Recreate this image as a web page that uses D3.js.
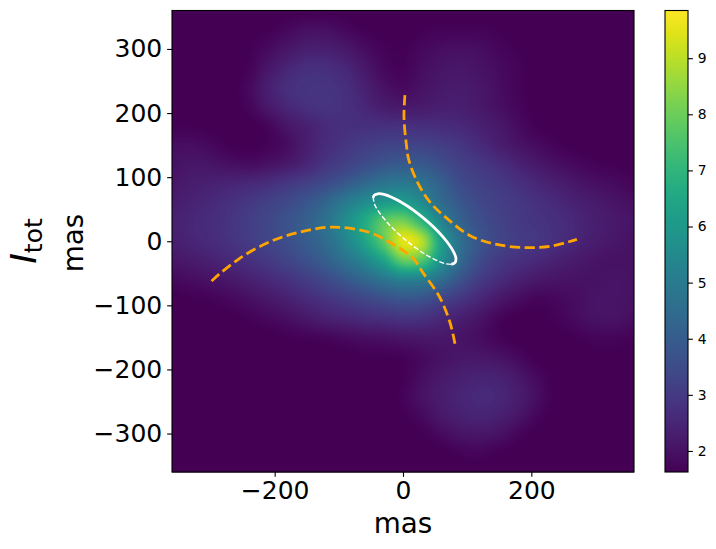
<!DOCTYPE html>
<html><head><meta charset="utf-8">
<style>html,body{margin:0;padding:0;background:#fff}svg{display:block}text{font-family:"DejaVu Sans";fill:#000}</style>
<script src="https://cdnjs.cloudflare.com/ajax/libs/d3/7.8.5/d3.min.js"></script>
</head><body><svg id="c" width="716" height="549"></svg>
<script>
const gridX = d3.range(25).map(i => -360 + i * 30);
const gridY = d3.range(25).map(i => 360 - i * 30);
const intensity = [
[1.6,1.6,1.6,1.6,1.6,1.6,1.6,1.6,1.6,1.6,1.6,1.6,1.6,1.6,1.6,1.6,1.6,1.6,1.6,1.6,1.6,1.6,1.6,1.6,1.6],
[1.6,1.6,1.6,1.6,1.6,1.65,1.8,1.95,1.95,1.8,1.65,1.6,1.6,1.65,1.7,1.7,1.7,1.65,1.6,1.6,1.6,1.6,1.6,1.6,1.6],
[1.6,1.6,1.6,1.6,1.65,1.85,2.1,2.3,2.3,2.15,1.9,1.7,1.65,1.8,1.9,1.95,1.9,1.75,1.65,1.6,1.6,1.6,1.6,1.6,1.6],
[1.6,1.6,1.6,1.6,1.7,2.1,2.45,2.7,2.7,2.5,2.15,1.8,1.7,1.9,2.05,2.1,2.0,1.85,1.7,1.6,1.6,1.6,1.6,1.6,1.6],
[1.6,1.6,1.6,1.6,1.8,2.3,2.7,2.85,2.85,2.7,2.35,2.0,1.85,2.0,2.15,2.2,2.1,1.9,1.7,1.6,1.6,1.6,1.6,1.6,1.6],
[1.6,1.6,1.6,1.6,1.75,2.15,2.5,2.75,2.85,2.75,2.5,2.25,2.15,2.2,2.3,2.3,2.15,1.95,1.75,1.6,1.6,1.6,1.6,1.6,1.6],
[1.65,1.65,1.6,1.6,1.6,1.75,2.1,2.35,2.6,2.75,2.75,2.75,2.75,2.7,2.65,2.55,2.35,2.15,1.85,1.65,1.6,1.6,1.6,1.6,1.6],
[1.9,1.9,1.8,1.65,1.6,1.7,1.9,2.3,2.65,2.9,3.1,3.25,3.3,3.25,3.1,2.9,2.6,2.3,2.05,1.85,1.7,1.6,1.6,1.6,1.6],
[2.0,2.1,2.05,1.95,1.9,2.0,2.2,2.5,2.9,3.2,3.5,3.8,3.95,3.9,3.55,3.2,2.95,2.7,2.4,2.15,1.95,1.8,1.7,1.65,1.6],
[2.1,2.25,2.35,2.45,2.55,2.7,2.95,3.2,3.5,3.9,4.4,4.8,4.95,4.7,4.1,3.5,3.2,3.0,2.75,2.5,2.3,2.1,1.95,1.85,1.75],
[2.25,2.4,2.55,2.75,2.95,3.2,3.45,3.8,4.3,5.0,5.6,6.1,6.2,5.5,4.5,3.85,3.4,3.15,2.95,2.75,2.55,2.35,2.2,2.05,1.95],
[2.35,2.5,2.65,2.85,3.1,3.35,3.7,4.1,4.7,5.6,6.6,7.8,8.2,7.0,5.3,4.2,3.6,3.25,3.0,2.85,2.7,2.5,2.3,2.15,2.05],
[2.3,2.45,2.6,2.8,3.05,3.3,3.6,4.0,4.5,5.3,6.4,7.8,9.5,8.9,6.2,4.6,3.75,3.3,3.05,2.9,2.7,2.45,2.25,2.1,2.0],
[2.1,2.2,2.35,2.55,2.75,3.0,3.3,3.65,4.1,4.7,5.4,6.4,7.9,7.6,5.8,4.4,3.5,3.0,2.75,2.55,2.35,2.2,2.05,2.0,2.0],
[1.8,1.9,2.0,2.15,2.35,2.55,2.8,3.1,3.45,3.85,4.3,4.8,5.2,5.1,4.5,3.7,3.05,2.65,2.35,2.15,2.05,2.0,2.0,2.05,2.0],
[1.6,1.65,1.7,1.8,1.95,2.15,2.35,2.6,2.85,3.1,3.35,3.6,3.8,3.7,3.3,2.9,2.5,2.15,1.9,1.75,1.8,1.9,2.05,2.05,2.0],
[1.6,1.6,1.6,1.6,1.7,1.8,1.95,2.15,2.35,2.5,2.65,2.75,2.85,2.8,2.55,2.3,2.05,1.75,1.6,1.6,1.7,1.85,2.0,2.0,1.9],
[1.6,1.6,1.6,1.6,1.6,1.6,1.65,1.7,1.75,1.85,1.95,2.0,2.1,2.15,2.15,2.05,1.9,1.7,1.6,1.6,1.6,1.65,1.75,1.75,1.7],
[1.6,1.6,1.6,1.6,1.6,1.6,1.6,1.6,1.6,1.6,1.65,1.65,1.7,1.85,2.0,2.1,2.1,2.0,1.8,1.6,1.6,1.6,1.6,1.6,1.6],
[1.6,1.6,1.6,1.6,1.6,1.6,1.6,1.6,1.6,1.6,1.6,1.6,1.65,1.9,2.15,2.3,2.4,2.35,2.1,1.8,1.6,1.6,1.6,1.6,1.6],
[1.6,1.6,1.6,1.6,1.6,1.6,1.6,1.6,1.6,1.6,1.6,1.6,1.7,2.0,2.25,2.45,2.55,2.5,2.25,1.9,1.6,1.6,1.6,1.6,1.6],
[1.6,1.6,1.6,1.6,1.6,1.6,1.6,1.6,1.6,1.6,1.6,1.6,1.65,1.85,2.15,2.35,2.45,2.35,2.1,1.75,1.6,1.6,1.6,1.6,1.6],
[1.6,1.6,1.6,1.6,1.6,1.6,1.6,1.65,1.6,1.6,1.6,1.6,1.6,1.65,1.85,2.05,2.1,2.0,1.75,1.6,1.6,1.6,1.6,1.6,1.6],
[1.6,1.6,1.6,1.6,1.6,1.6,1.6,1.6,1.6,1.6,1.6,1.6,1.6,1.6,1.6,1.7,1.75,1.65,1.6,1.6,1.6,1.6,1.6,1.6,1.6],
[1.6,1.6,1.6,1.6,1.6,1.6,1.6,1.6,1.6,1.6,1.6,1.6,1.6,1.6,1.6,1.6,1.6,1.6,1.6,1.6,1.6,1.6,1.6,1.6,1.6]
];
const curveA = [[81,-160],[73,-126],[57,-87],[31,-49],[16,-27],[-20,-2],[-53,14],[-110,22],[-162,14],[-208,-1],[-255,-27],[-294,-58],[-302,-66]];
const curveB = [[3,228],[1.5,194],[5,153],[9,127],[23,91],[42,61],[68,36],[104,9],[146,-5],[193,-10],[234,-7],[271,3]];
const ellipseSolid = [[-46.4,67.7],[-45,71.5],[-39.3,74.1],[-29.6,73],[-1.4,60],[32,36],[61.6,7.5],[79.6,-18],[82.5,-27.3],[81,-33.5],[75.3,-36.1]];
const ellipseDashed = [[75.3,-36.1],[65.6,-35],[37.4,-22],[4,2],[-25.6,30.5],[-43.6,56],[-46.4,67.7]];
const axisTicks = [-300,-200,-100,0,100,200,300];
const xTicks = [-200,0,200];
const barTicks = [2,3,4,5,6,7,8,9];
const valueMin = 1.625, valueMax = 9.85, extent = 360;

const svg = d3.select("#c");
const L = 172, R = 634, T = 10.5, B = 472, BL = 665, BR = 688;
const x = d3.scaleLinear().domain([-extent, extent]).range([L, R]);
const y = d3.scaleLinear().domain([-extent, extent]).range([B, T]);
const col = d3.scaleSequential(d3.interpolateViridis).domain([valueMin, valueMax]);
const cb = d3.scaleLinear().domain([valueMin, valueMax]).range([B, T]);

function cr(a,b,c,d,t){return b+0.5*t*(c-a+t*(2*a-5*b+4*c-d+t*(3*(b-c)+d-a)));}
function sample(mx,my){
  const fx=(mx-gridX[0])/30, fy=(gridY[0]-my)/30;
  const ix=Math.min(23,Math.floor(fx)), iy=Math.min(23,Math.floor(fy));
  const tx=fx-ix, ty=fy-iy, n=24;
  const g=(r,c)=>intensity[Math.max(0,Math.min(n,r))][Math.max(0,Math.min(n,c))];
  const rows=[-1,0,1,2].map(dr=>cr(g(iy+dr,ix-1),g(iy+dr,ix),g(iy+dr,ix+1),g(iy+dr,ix+2),tx));
  return cr(rows[0],rows[1],rows[2],rows[3],ty);
}
const w=Math.round(R-L), h=Math.round(B-T);
const cv=document.createElement("canvas");cv.width=w;cv.height=h;
const ctx=cv.getContext("2d"), img=ctx.createImageData(w,h);
for(let j=0;j<h;j++)for(let i=0;i<w;i++){
  const v=Math.max(valueMin,Math.min(valueMax,sample(x.invert(L+i+0.5),y.invert(T+j+0.5))));
  const c=d3.rgb(col(v)),k=(j*w+i)*4;
  img.data[k]=c.r;img.data[k+1]=c.g;img.data[k+2]=c.b;img.data[k+3]=255;
}
ctx.putImageData(img,0,0);
svg.append("image").attr("x",L).attr("y",T).attr("width",w).attr("height",h).attr("href",cv.toDataURL());

const defs=svg.append("defs");
const gr=defs.append("linearGradient").attr("id","cbg").attr("x1",0).attr("x2",0).attr("y1",1).attr("y2",0);
d3.range(0,1.0001,0.05).forEach(t=>gr.append("stop").attr("offset",t).attr("stop-color",d3.interpolateViridis(t)));
svg.append("rect").attr("x",BL).attr("y",T).attr("width",BR-BL).attr("height",B-T).attr("fill","url(#cbg)");

const line=d3.line().x(d=>x(d[0])).y(d=>y(d[1])).curve(d3.curveCatmullRom.alpha(0.5));
const draw=(pts,color,lw,dash)=>svg.append("path").attr("d",line(pts)).attr("fill","none")
  .attr("stroke",color).attr("stroke-width",lw).attr("stroke-dasharray",dash);
draw(curveA,"#ffa500",2.78,"10.3 4.45");
draw(curveB,"#ffa500",2.78,"10.3 4.45");
draw(ellipseSolid,"#fff",2.78,null);
draw(ellipseDashed,"#fff",1.39,"5.15 2.2");

const fmt=d=>String(d).replace("-","\u2212");
function styleAxis(g,size){
  g.select(".domain").remove();
  g.selectAll(".tick line").attr("stroke","#000").attr("stroke-width",1.11);
  g.selectAll(".tick text").attr("font-size",size).attr("font-family","DejaVu Sans").attr("fill","#000");
}
svg.append("g").attr("transform",`translate(0,${B})`)
  .call(d3.axisBottom(x).tickValues(xTicks).tickFormat(fmt).tickSize(4.86).tickPadding(4.86))
  .call(styleAxis,25);
svg.append("g").attr("transform",`translate(${L},0)`)
  .call(d3.axisLeft(y).tickValues(axisTicks).tickFormat(fmt).tickSize(4.86).tickPadding(4.86))
  .call(styleAxis,25);
svg.append("g").attr("transform",`translate(${BR},0)`)
  .call(d3.axisRight(cb).tickValues(barTicks).tickFormat(fmt).tickSize(4.86).tickPadding(4.86))
  .call(styleAxis,13.9);
svg.append("rect").attr("x",L).attr("y",T).attr("width",R-L).attr("height",B-T).attr("fill","none").attr("stroke","#000").attr("stroke-width",1.11);
svg.append("rect").attr("x",BL).attr("y",T).attr("width",BR-BL).attr("height",B-T).attr("fill","none").attr("stroke","#000").attr("stroke-width",1.11);

svg.append("text").attr("x",(L+R)/2).attr("y",533).attr("text-anchor","middle").attr("font-size",27.8).text("mas");
svg.append("text").attr("transform","translate(83,243) rotate(-90)").attr("text-anchor","middle").attr("font-size",27.8).text("mas");
const il=svg.append("text").attr("transform","translate(36,241) rotate(-90)").attr("text-anchor","middle");
il.append("tspan").attr("font-size",36).attr("font-style","italic").text("I");
il.append("tspan").attr("font-size",25).attr("dy",6).text("tot");
</script></body></html>
